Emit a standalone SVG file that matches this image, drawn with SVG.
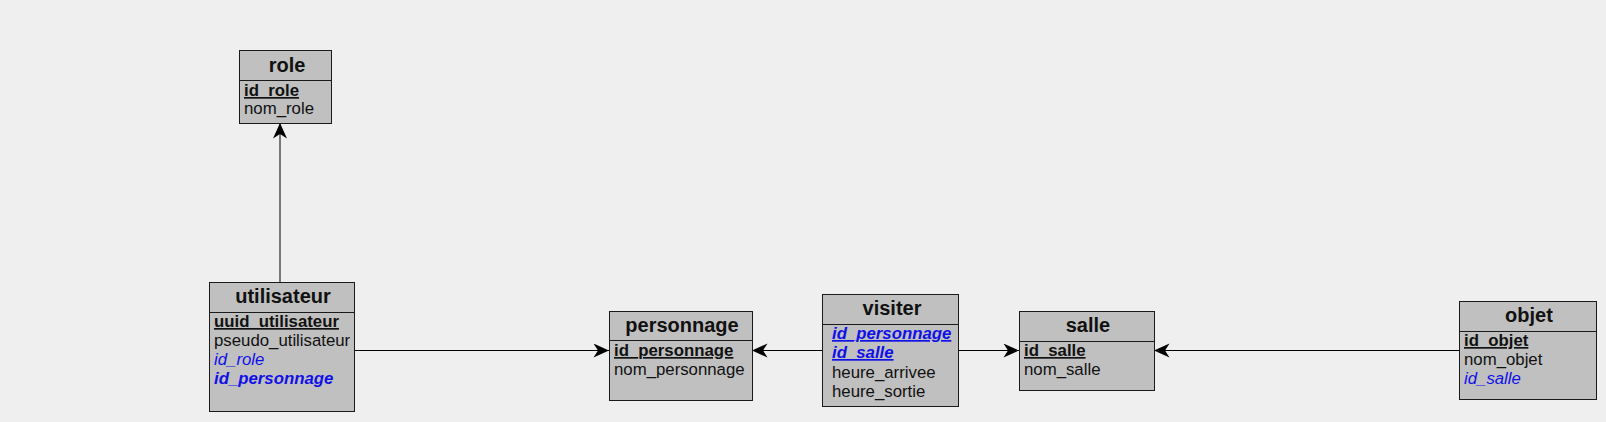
<svg xmlns="http://www.w3.org/2000/svg" width="1606" height="422" viewBox="0 0 1606 422">
<style>
.bg{fill:#efefef}
.box{fill:#c0c0c0;stroke:#1a1a1a;stroke-width:1}
.div{stroke:#1a1a1a;stroke-width:1}
.t{font-family:"Liberation Sans",Arial,sans-serif;font-size:20px;font-weight:bold;fill:#111;text-anchor:middle}
.r{font-family:"Liberation Sans",Arial,sans-serif;font-size:16.8px;fill:#111}
.pk{font-weight:bold;text-decoration:underline}
.fk{font-style:italic;fill:#1010e8}
.b{font-weight:bold}
.u{text-decoration:underline}
.c{stroke:#000;stroke-width:1;fill:none;marker-end:url(#ah)}
</style>
<defs>
<marker id="ah" markerUnits="userSpaceOnUse" markerWidth="20" markerHeight="16" refX="16" refY="7" orient="auto">
<path d="M16,7 L0.5,0 L5,7 L0.5,14 Z" fill="#000"/>
</marker>
</defs>
<rect class="bg" x="0" y="0" width="1606" height="422"/>
<g id="connectors">
<line class="c" x1="280" y1="282" x2="280" y2="123"/>
<line class="c" x1="354" y1="350.5" x2="609" y2="350.5"/>
<line class="c" x1="822" y1="350.5" x2="752" y2="350.5"/>
<line class="c" x1="958" y1="350.5" x2="1019" y2="350.5"/>
<line class="c" x1="1459" y1="350.5" x2="1154" y2="350.5"/>
</g>
<g id="role">
<rect class="box" x="239.5" y="50.5" width="92" height="73"/>
<line class="div" x1="239.5" y1="80.5" x2="331.5" y2="80.5"/>
<text class="t" x="287" y="72">role</text>
<text class="r pk" x="244" y="96">id_role</text>
<text class="r" x="244" y="114">nom_role</text>
</g>
<g id="utilisateur">
<rect class="box" x="209.5" y="282.5" width="145" height="129"/>
<line class="div" x1="209.5" y1="312.5" x2="354.5" y2="312.5"/>
<text class="t" x="283" y="303">utilisateur</text>
<text class="r pk" x="214" y="327">uuid_utilisateur</text>
<text class="r" x="214" y="346">pseudo_utilisateur</text>
<text class="r fk" x="214" y="365">id_role</text>
<text class="r fk b" x="214" y="384">id_personnage</text>
</g>
<g id="personnage">
<rect class="box" x="609.5" y="311.5" width="143" height="89"/>
<line class="div" x1="609.5" y1="340.5" x2="752.5" y2="340.5"/>
<text class="t" x="682" y="332">personnage</text>
<text class="r pk" x="614" y="356">id_personnage</text>
<text class="r" x="614" y="375">nom_personnage</text>
</g>
<g id="visiter">
<rect class="box" x="822.5" y="294.5" width="136" height="112"/>
<line class="div" x1="822.5" y1="324.5" x2="958.5" y2="324.5"/>
<text class="t" x="892" y="315">visiter</text>
<text class="r fk b u" x="832" y="339">id_personnage</text>
<text class="r fk b u" x="832" y="358">id_salle</text>
<text class="r" x="832" y="378">heure_arrivee</text>
<text class="r" x="832" y="397">heure_sortie</text>
</g>
<g id="salle">
<rect class="box" x="1019.5" y="311.5" width="135" height="79"/>
<line class="div" x1="1019.5" y1="341.5" x2="1154.5" y2="341.5"/>
<text class="t" x="1088" y="332">salle</text>
<text class="r pk" x="1024" y="356">id_salle</text>
<text class="r" x="1024" y="375">nom_salle</text>
</g>
<g id="objet">
<rect class="box" x="1459.5" y="301.5" width="137" height="98"/>
<line class="div" x1="1459.5" y1="331.5" x2="1596.5" y2="331.5"/>
<text class="t" x="1529" y="322">objet</text>
<text class="r pk" x="1464" y="346">id_objet</text>
<text class="r" x="1464" y="365">nom_objet</text>
<text class="r fk" x="1464" y="384">id_salle</text>
</g>
</svg>
